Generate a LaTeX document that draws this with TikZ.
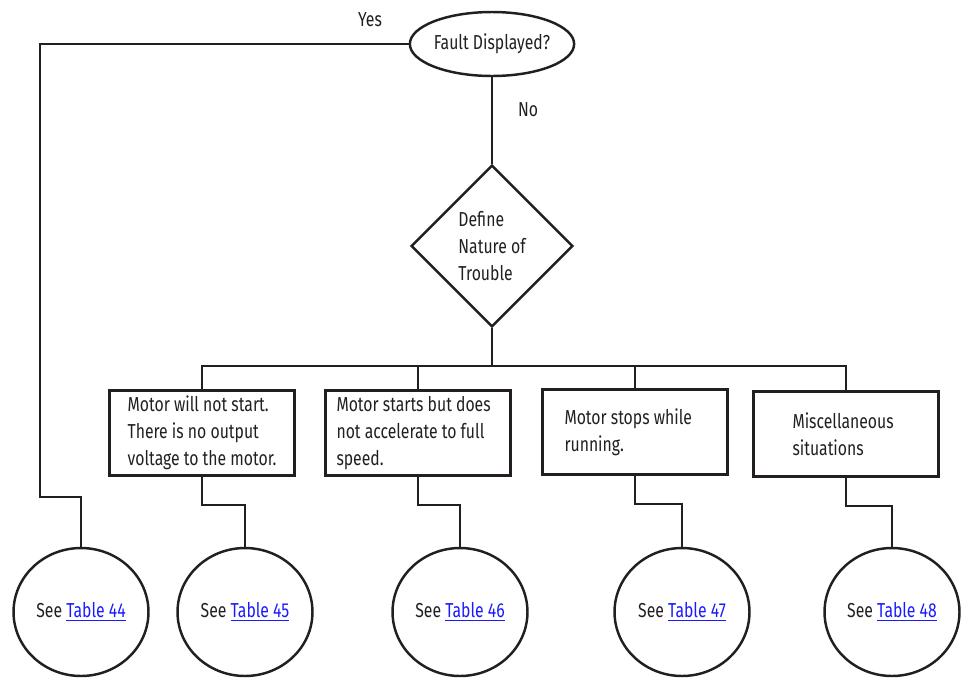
\documentclass[tikz,border=0pt]{standalone}
\usepackage{fontspec}
\setmainfont{Fira Sans}[FakeStretch=0.78]
\usetikzlibrary{shapes.geometric}
\definecolor{ink}{HTML}{231F20}
\definecolor{linkblue}{HTML}{1A1AFF}
\newcommand{\tabref}[1]{See \textcolor{linkblue}{\underline{Table #1}}\hspace{0.2cm}}
\tikzset{
  flow/.style={draw=ink, line width=1.4pt},
  query/.style={ellipse, flow, minimum width=3.28cm, minimum height=1.28cm, inner sep=0pt},
  choice/.style={diamond, flow, minimum width=3.24cm, minimum height=3.24cm, inner sep=0pt, align=left},
  case/.style={rectangle, flow, minimum width=3.7cm, minimum height=1.7cm, align=flush left, inner sep=2pt},
  target/.style={ellipse, flow, minimum width=2.7cm, minimum height=2.56cm, inner sep=0pt},
}
\begin{document}
\begin{tikzpicture}[x=0.02cm, y=-0.02cm, font=\fontsize{11.5}{15.3}\selectfont, text=ink]
  \useasboundingbox (0,0) rectangle (964,677);

  % question and decision
  \node[query] (fault) at (492,44) {Fault Displayed?};
  \node[choice] (trouble) at (492,246) {Define\\Nature of\\Trouble};
  \node (yes) at (370,20) {Yes};
  \node (no) at (528,110) {No};

  % kinds of trouble
  \node[case] (start) at (202,433) {Motor will not start.\\There is no output\\voltage to the motor.};
  \node[case, text width=3.26cm] (accel) at (418,433) {Motor starts but does\\not accelerate to full\\speed.};
  \node[case, text width=2.82cm] (stops) at (635,432) {Motor stops while\\running.};
  \node[case, text width=2.14cm] (misc) at (846,434) {Miscellaneous\\situations};

  % references
  \node[target] (t44) at (81,612) {\tabref{44}};
  \node[target] (t45) at (245,612) {\tabref{45}};
  \node[target] (t46) at (460,612) {\tabref{46}};
  \node[target] (t47) at (682,612) {\tabref{47}};
  \node[target] (t48) at (892,612) {\tabref{48}};

  % connectors
  \coordinate (bus) at (492,366);
  \draw[flow] (fault.west) -| (40,497) -| (t44.north);
  \draw[flow] (fault.south) -- (trouble.north);
  \draw[flow] (trouble.south) -- (bus);
  \draw[flow] (start.north) |- (bus) -| (misc.north);
  \draw[flow] (accel.north) -- (accel.north |- bus);
  \draw[flow] (stops.north) -- (stops.north |- bus);
  \draw[flow] (start.south) -- ++(0,28) -| (t45.north);
  \draw[flow] (accel.south) -- ++(0,28) -| (t46.north);
  \draw[flow] (stops.south) -- ++(0,28) -| (t47.north);
  \draw[flow] (misc.south) -- ++(0,28) -| (t48.north);
\end{tikzpicture}
\end{document}
